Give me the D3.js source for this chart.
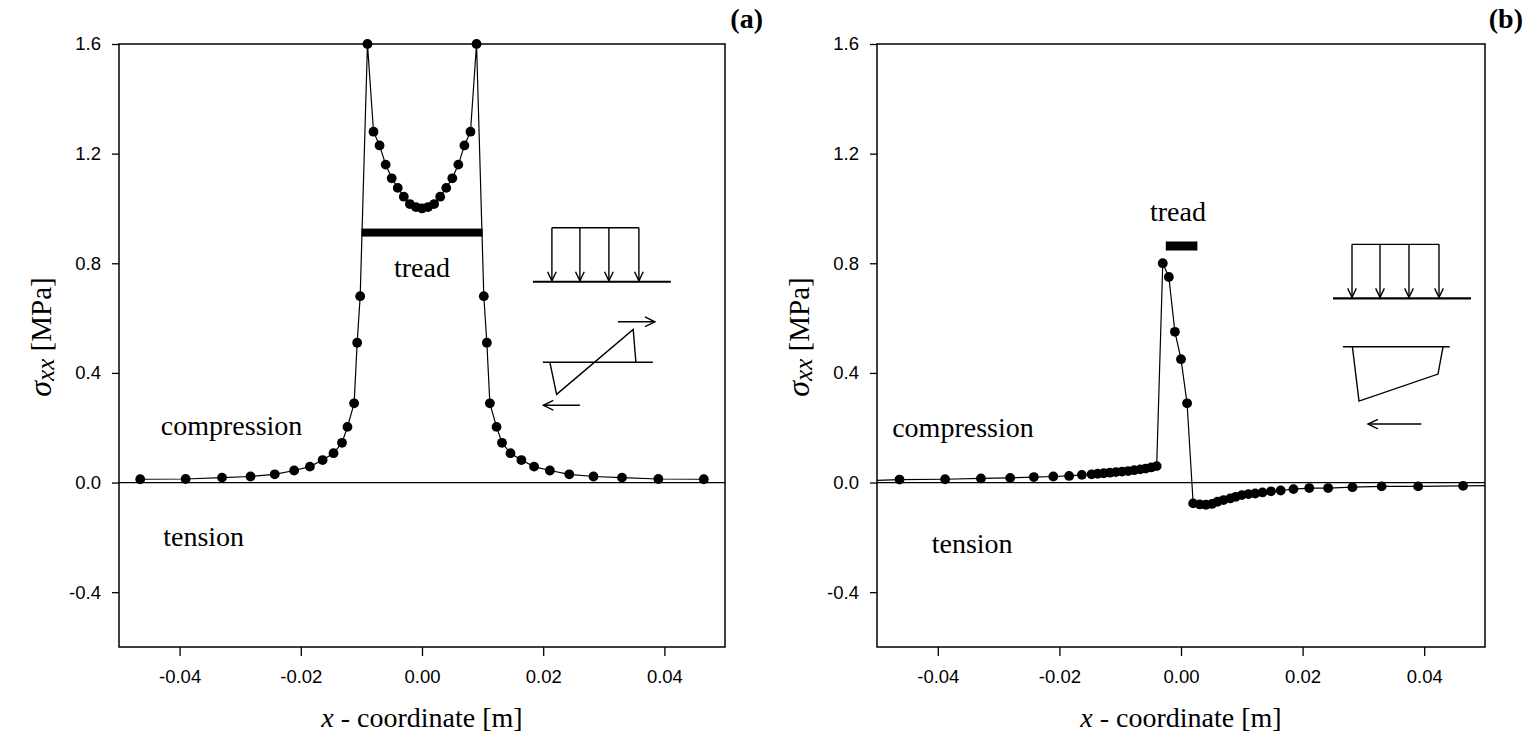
<!DOCTYPE html>
<html>
<head>
<meta charset="utf-8">
<script src="https://cdn.jsdelivr.net/npm/d3@7"></script>
<style>
  body { margin: 0; background: #fff; }
  text { fill: #000; }
</style>
</head>
<body>
<svg id="chart" width="1529" height="749"></svg>
<script>
// x - coordinate [m], sigma_xx [MPa]
var xDomain = [-0.05, 0.05];
var yDomain = [-0.6, 1.6];
var xTicks = [-0.04, -0.02, 0.00, 0.02, 0.04];
var yTicks = [-0.4, 0.0, 0.4, 0.8, 1.2, 1.6];

// panel (a): symmetric uniform load
var aX = [-0.0465, -0.039, -0.033, -0.0283, -0.0243, -0.0211, -0.0185, -0.0164, -0.0146, -0.0132,
          -0.0123, -0.0112, -0.0107, -0.0102, -0.009, -0.008, -0.007, -0.006, -0.005, -0.004,
          -0.003, -0.002, -0.001, 0.0, 0.001, 0.002, 0.003, 0.004, 0.005, 0.006,
          0.007, 0.008, 0.009, 0.0102, 0.0107, 0.0112, 0.0123, 0.0132, 0.0146, 0.0164,
          0.0185, 0.0211, 0.0243, 0.0283, 0.033, 0.039, 0.0465];
var aY = [0.012, 0.013, 0.018, 0.022, 0.030, 0.044, 0.058, 0.082, 0.107, 0.145,
          0.203, 0.289, 0.51, 0.68, 1.60, 1.28, 1.23, 1.16, 1.11, 1.075,
          1.043, 1.016, 1.005, 1.0, 1.005, 1.016, 1.043, 1.075, 1.11, 1.16,
          1.23, 1.28, 1.60, 0.68, 0.51, 0.289, 0.203, 0.145, 0.107, 0.082,
          0.058, 0.044, 0.030, 0.022, 0.018, 0.013, 0.012];

// panel (b): narrow tread with traction
var bX = [-0.0463, -0.0388, -0.0329, -0.0281, -0.0242, -0.021, -0.0184, -0.0163, -0.0147, -0.0137,
          -0.0127, -0.0117, -0.0107, -0.0097, -0.0087, -0.0077, -0.0067, -0.0058, -0.0049, -0.0040,
          -0.003, -0.002, -0.001, 0.0, 0.001, 0.002, 0.0031, 0.0041, 0.0051, 0.006,
          0.007, 0.0081, 0.009, 0.010, 0.0111, 0.0122, 0.0134, 0.0148, 0.0164, 0.0185,
          0.0211, 0.0242, 0.0282, 0.033, 0.039, 0.0464];
var bY = [0.011, 0.012, 0.015, 0.017, 0.020, 0.022, 0.024, 0.028, 0.030, 0.032,
          0.034, 0.036, 0.038, 0.040, 0.042, 0.045, 0.048, 0.051, 0.055, 0.060,
          0.80, 0.75, 0.55, 0.45, 0.289, -0.076, -0.080, -0.081, -0.078, -0.070,
          -0.064, -0.058, -0.052, -0.046, -0.042, -0.040, -0.036, -0.032, -0.029, -0.024,
          -0.020, -0.020, -0.017, -0.014, -0.014, -0.012];
// line continues to the frame edges in (b)
var bEdgeX = [-0.05, 0.05];
var bEdgeY = [0.008, -0.011];

var svg = d3.select("#chart");
var serif = "'Liberation Serif', 'Times New Roman', serif";
var sans = "'Liberation Sans', Arial, sans-serif";

var panels = [
  {left: 119, right: 725, top: 44, bottom: 647, label: "(a)",
   xs: aX, ys: aY, edge: null,
   tread: [-0.01, 0.01, 0.912, 8], treadText: [0, 0.75],
   comp: [-0.0431, 0.173], tens: [-0.0427, -0.232],
   inset: [0.0183, 0.7325], kind: "a"},
  {left: 877, right: 1485, top: 44, bottom: 647, label: "(b)",
   xs: bX, ys: bY, edge: [bEdgeX, bEdgeY],
   tread: [-0.0025, 0.0027, 0.863, 9], treadText: [-0.0005, 0.954],
   comp: [-0.0475, 0.166], tens: [-0.041, -0.258],
   inset: [0.0250, 0.672], kind: "b"}
];

// arrow with open V head pointing to (x2, y2)
function arrow(g, x1, y1, x2, y2, head) {
  g.append("line").attr("x1", x1).attr("y1", y1).attr("x2", x2).attr("y2", y2);
  var ang = Math.atan2(y2 - y1, x2 - x1);
  var hl = head || 9, hw = 0.45;
  var p1 = [x2 - hl * Math.cos(ang - hw), y2 - hl * Math.sin(ang - hw)];
  var p2 = [x2 - hl * Math.cos(ang + hw), y2 - hl * Math.sin(ang + hw)];
  g.append("path").attr("d", "M" + p1 + "L" + x2 + "," + y2 + "L" + p2).attr("fill", "none");
}

panels.forEach(function(p) {
  var x = d3.scaleLinear().domain(xDomain).range([p.left, p.right]);
  var y = d3.scaleLinear().domain(yDomain).range([p.bottom, p.top]);
  var g = svg.append("g");

  // axes
  var ya = g.append("g").attr("transform", "translate(" + p.left + ",0)")
    .call(d3.axisLeft(y).tickValues(yTicks).tickSize(7).tickPadding(11)
      .tickFormat(function(d) { return d.toFixed(1); }));
  var xa = g.append("g").attr("transform", "translate(0," + p.bottom + ")")
    .call(d3.axisBottom(x).tickValues(xTicks).tickSize(9).tickPadding(14)
      .tickFormat(function(d) { return d.toFixed(2); }));
  [ya, xa].forEach(function(a) {
    a.select(".domain").remove();
    a.selectAll("line").attr("stroke", "#000").attr("stroke-width", 1.3);
    a.selectAll("text").attr("font-family", sans).attr("font-size", 18.5).attr("fill", "#000");
  });

  // frame
  g.append("rect").attr("x", p.left).attr("y", p.top)
    .attr("width", p.right - p.left).attr("height", p.bottom - p.top)
    .attr("fill", "none").attr("stroke", "#000").attr("stroke-width", 1.5);

  // zero line
  g.append("line").attr("x1", p.left).attr("x2", p.right)
    .attr("y1", y(0)).attr("y2", y(0)).attr("stroke", "#000").attr("stroke-width", 1.2);

  // data line
  var pts = p.xs.map(function(v, i) { return [v, p.ys[i]]; });
  var linePts = pts.slice();
  if (p.edge) {
    linePts.unshift([p.edge[0][0], p.edge[1][0]]);
    linePts.push([p.edge[0][1], p.edge[1][1]]);
  }
  var line = d3.line().x(function(d) { return x(d[0]); }).y(function(d) { return y(d[1]); });
  g.append("path").datum(linePts).attr("d", line)
    .attr("fill", "none").attr("stroke", "#000").attr("stroke-width", 1.2);

  g.selectAll("circle.pt").data(pts).enter().append("circle")
    .attr("class", "pt")
    .attr("cx", function(d) { return x(d[0]); })
    .attr("cy", function(d) { return y(d[1]); })
    .attr("r", 4.9).attr("fill", "#000");

  // tread bar
  g.append("rect").attr("x", x(p.tread[0])).attr("width", x(p.tread[1]) - x(p.tread[0]))
    .attr("y", y(p.tread[2]) - p.tread[3] / 2).attr("height", p.tread[3]).attr("fill", "#000");

  // texts
  function label(t, pos, anchor) {
    g.append("text").attr("x", x(pos[0])).attr("y", y(pos[1]))
      .attr("font-family", serif).attr("font-size", 28)
      .attr("text-anchor", anchor || "start").text(t);
  }
  label("tread", p.treadText, "middle");
  label("compression", p.comp);
  label("tension", p.tens);

  g.append("text").attr("x", p.right + 38).attr("y", 28)
    .attr("text-anchor", "end").attr("font-family", serif).attr("font-weight", "bold")
    .attr("font-size", 28).text(p.label);

  // axis titles
  var xt = g.append("text").attr("x", (p.left + p.right) / 2).attr("y", 727)
    .attr("text-anchor", "middle").attr("font-family", serif).attr("font-size", 28);
  xt.append("tspan").attr("font-style", "italic").text("x");
  xt.append("tspan").text(" - coordinate [m]");

  var yt = g.append("text")
    .attr("transform", "translate(" + (p.left - 68) + ",337) rotate(-90)")
    .attr("text-anchor", "middle").attr("font-family", serif).attr("font-size", 29);
  yt.append("tspan").attr("font-style", "italic").attr("font-size", 32).text("σ");
  yt.append("tspan").attr("font-style", "italic").attr("font-size", 25).attr("dy", 3).text("xx");
  yt.append("tspan").attr("dy", -3).text(" [MPa]");

  // inset sketch, anchored at the ground-line left end
  var ig = g.append("g")
    .attr("transform", "translate(" + x(p.inset[0]) + "," + y(p.inset[1]) + ")")
    .attr("stroke", "#000").attr("fill", "none").attr("stroke-width", 1.4);
  var arrowsX = [19, 47, 76, 106];
  ig.append("line").attr("x1", arrowsX[0]).attr("x2", arrowsX[3]).attr("y1", -54).attr("y2", -54);
  arrowsX.forEach(function(ax) { arrow(ig, ax, -54, ax, -1, 10); });
  ig.append("line").attr("x1", 0).attr("x2", 138).attr("y1", 0).attr("y2", 0)
    .attr("stroke-width", 2.2);

  if (p.kind === "a") {
    ig.append("line").attr("x1", 10).attr("x2", 120).attr("y1", 80.5).attr("y2", 80.5);
    ig.append("path").attr("d", "M17,80.5L23.7,112.6L100.3,47.6L103,80.5");
    arrow(ig, 85, 40, 122, 40, 11);
    arrow(ig, 47, 123.5, 10.5, 123.5, 11);
  } else {
    ig.append("line").attr("x1", 10).attr("x2", 116.7).attr("y1", 48.4).attr("y2", 48.4);
    ig.append("path").attr("d", "M19.4,48.4L26,102.7L105,75.7L110,48.4");
    arrow(ig, 88.4, 125.7, 35, 125.7, 11);
  }
});
</script>
</body>
</html>
